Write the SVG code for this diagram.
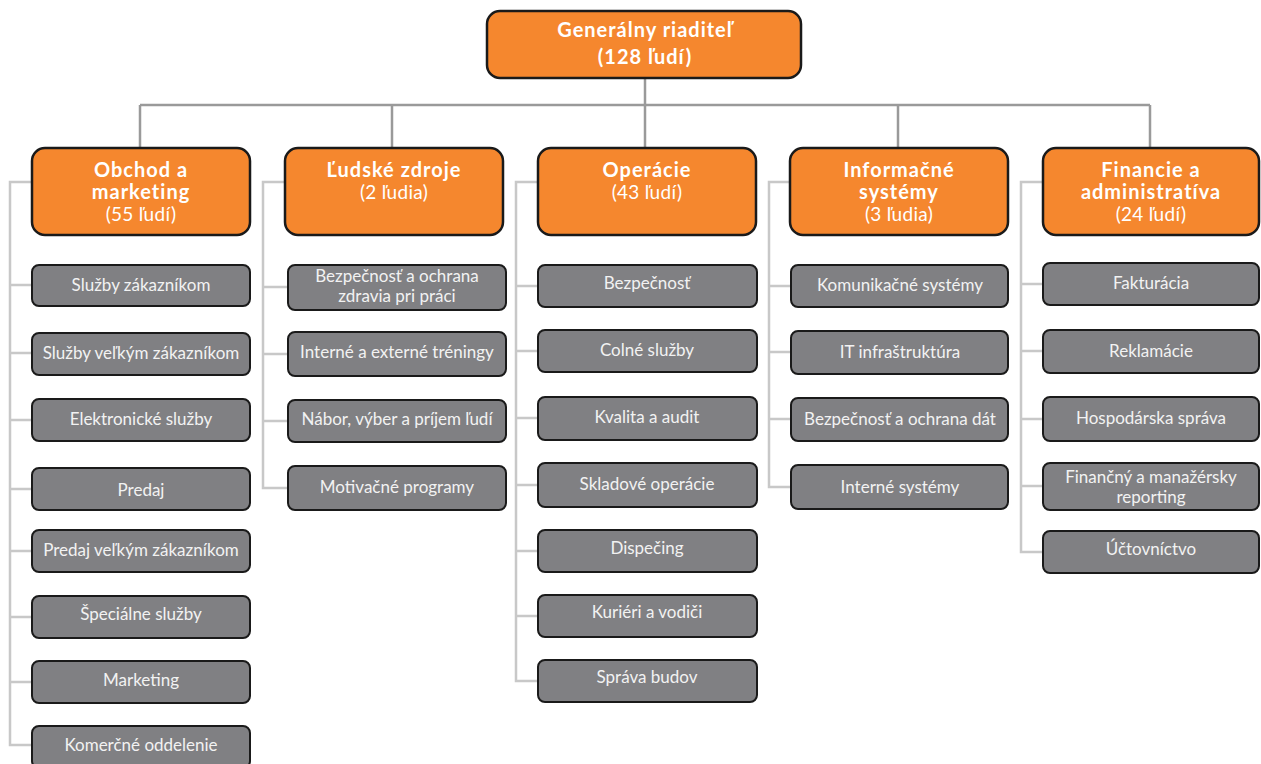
<svg xmlns="http://www.w3.org/2000/svg" width="1261" height="764" viewBox="0 0 1261 764">
<style>
.top{fill:#F5872E;stroke:#1a1a1a;stroke-width:2.5}
.ch{fill:#808083;stroke:#1a1a1a;stroke-width:2}
.t{font-family:Lato,"Open Sans",sans-serif;fill:#fff;text-anchor:middle}
.b{font-weight:bold;font-size:20px;letter-spacing:1px}
.r{font-size:19px;letter-spacing:0.3px}
.c{font-size:17px;fill:#f2f2f2}
.bus{stroke:#9a9a9a;stroke-width:2.5;fill:none}
.tr{stroke:#c8c8c8;stroke-width:2.5;fill:none}
</style>
<g id="connectors">
<path class="bus" d="M645 78V148M140 105H1150M140 105V148M392 105V148M898 105V148M1150 105V148"/>
<path class="tr" d="M32 182H10V745H32M10 285H32M10 353H32M10 420H32M10 489H32M10 551H32M10 617H32M10 682H32"/>
<path class="tr" d="M285 182H263V488H288M263 287H288M263 354H288M263 421H288"/>
<path class="tr" d="M538 182H516V681H538M516 286H538M516 351H538M516 418H538M516 485H538M516 551H538M516 616H538"/>
<path class="tr" d="M790 182H769V487H791M769 286H791M769 352H791M769 419H791"/>
<path class="tr" d="M1043 182H1021V552H1043M1021 284H1043M1021 351H1043M1021 419H1043M1021 486H1043"/>
</g>
<g id="ceo"><rect class="top" x="487" y="11" width="314" height="67" rx="13"/>
<text class="t b" x="645" y="37">Generálny riaditeľ</text><text class="t b" x="645" y="64">(128 ľudí)</text></g>

<g id="obchod"><rect class="top" x="32" y="148" width="218" height="87" rx="13"/>
<text class="t b" x="141" y="177">Obchod a</text><text class="t b" x="141" y="199">marketing</text><text class="t r" x="141" y="221">(55 ľudí)</text></g>
<g id="ludske"><rect class="top" x="285" y="148" width="218" height="87" rx="13"/>
<text class="t b" x="394" y="177">Ľudské zdroje</text><text class="t r" x="394" y="199">(2 ľudia)</text></g>
<g id="operacie"><rect class="top" x="538" y="148" width="218" height="87" rx="13"/>
<text class="t b" x="647" y="177">Operácie</text><text class="t r" x="647" y="199">(43 ľudí)</text></g>
<g id="informacne"><rect class="top" x="790" y="148" width="218" height="87" rx="13"/>
<text class="t b" x="899" y="177">Informačné</text><text class="t b" x="899" y="199">systémy</text><text class="t r" x="899" y="221">(3 ľudia)</text></g>
<g id="financie"><rect class="top" x="1043" y="148" width="216" height="87" rx="13"/>
<text class="t b" x="1151" y="177">Financie a</text><text class="t b" x="1151" y="199">administratíva</text><text class="t r" x="1151" y="221">(24 ľudí)</text></g>

<g id="c1-1"><rect class="ch" x="32" y="265" width="218" height="41" rx="7"/><text class="t c" x="141" y="291">Služby zákazníkom</text></g>
<g id="c1-2"><rect class="ch" x="32" y="333" width="218" height="42" rx="7"/><text class="t c" x="141" y="359">Služby veľkým zákazníkom</text></g>
<g id="c1-3"><rect class="ch" x="32" y="399" width="218" height="42" rx="7"/><text class="t c" x="141" y="425">Elektronické služby</text></g>
<g id="c1-4"><rect class="ch" x="32" y="468" width="218" height="42" rx="7"/><text class="t c" x="141" y="496">Predaj</text></g>
<g id="c1-5"><rect class="ch" x="32" y="530" width="218" height="42" rx="7"/><text class="t c" x="141" y="556">Predaj veľkým zákazníkom</text></g>
<g id="c1-6"><rect class="ch" x="32" y="596" width="218" height="42" rx="7"/><text class="t c" x="141" y="620">Špeciálne služby</text></g>
<g id="c1-7"><rect class="ch" x="32" y="661" width="218" height="42" rx="7"/><text class="t c" x="141" y="686">Marketing</text></g>
<g id="c1-8"><rect class="ch" x="32" y="726" width="218" height="42" rx="7"/><text class="t c" x="141" y="751">Komerčné oddelenie</text></g>

<g id="c2-1"><rect class="ch" x="288" y="265" width="218" height="45" rx="7"/><text class="t c" x="397" y="282">Bezpečnosť a ochrana</text><text class="t c" x="397" y="302">zdravia pri práci</text></g>
<g id="c2-2"><rect class="ch" x="288" y="332" width="218" height="44" rx="7"/><text class="t c" x="397" y="358">Interné a externé tréningy</text></g>
<g id="c2-3"><rect class="ch" x="288" y="400" width="218" height="42" rx="7"/><text class="t c" x="397" y="425">Nábor, výber a príjem ľudí</text></g>
<g id="c2-4"><rect class="ch" x="288" y="466" width="218" height="44" rx="7"/><text class="t c" x="397" y="493">Motivačné programy</text></g>

<g id="c3-1"><rect class="ch" x="538" y="265" width="219" height="42" rx="7"/><text class="t c" x="647" y="289">Bezpečnosť</text></g>
<g id="c3-2"><rect class="ch" x="538" y="330" width="219" height="42" rx="7"/><text class="t c" x="647" y="356">Colné služby</text></g>
<g id="c3-3"><rect class="ch" x="538" y="397" width="219" height="43" rx="7"/><text class="t c" x="647" y="423">Kvalita a audit</text></g>
<g id="c3-4"><rect class="ch" x="538" y="463" width="219" height="44" rx="7"/><text class="t c" x="647" y="490">Skladové operácie</text></g>
<g id="c3-5"><rect class="ch" x="538" y="530" width="219" height="42" rx="7"/><text class="t c" x="647" y="554">Dispečing</text></g>
<g id="c3-6"><rect class="ch" x="538" y="595" width="219" height="42" rx="7"/><text class="t c" x="647" y="618">Kuriéri a vodiči</text></g>
<g id="c3-7"><rect class="ch" x="538" y="660" width="219" height="42" rx="7"/><text class="t c" x="647" y="683">Správa budov</text></g>

<g id="c4-1"><rect class="ch" x="791" y="265" width="217" height="42" rx="7"/><text class="t c" x="900" y="291">Komunikačné systémy</text></g>
<g id="c4-2"><rect class="ch" x="791" y="331" width="217" height="43" rx="7"/><text class="t c" x="900" y="358">IT infraštruktúra</text></g>
<g id="c4-3"><rect class="ch" x="791" y="398" width="217" height="43" rx="7"/><text class="t c" x="900" y="425">Bezpečnosť a ochrana dát</text></g>
<g id="c4-4"><rect class="ch" x="791" y="465" width="217" height="44" rx="7"/><text class="t c" x="900" y="493">Interné systémy</text></g>

<g id="c5-1"><rect class="ch" x="1043" y="263" width="216" height="42" rx="7"/><text class="t c" x="1151" y="289">Fakturácia</text></g>
<g id="c5-2"><rect class="ch" x="1043" y="330" width="216" height="43" rx="7"/><text class="t c" x="1151" y="357">Reklamácie</text></g>
<g id="c5-3"><rect class="ch" x="1043" y="397" width="216" height="44" rx="7"/><text class="t c" x="1151" y="424">Hospodárska správa</text></g>
<g id="c5-4"><rect class="ch" x="1043" y="463" width="216" height="47" rx="7"/><text class="t c" x="1151" y="483">Finančný a manažérsky</text><text class="t c" x="1151" y="503">reporting</text></g>
<g id="c5-5"><rect class="ch" x="1043" y="531" width="216" height="42" rx="7"/><text class="t c" x="1151" y="555">Účtovníctvo</text></g>
</svg>
